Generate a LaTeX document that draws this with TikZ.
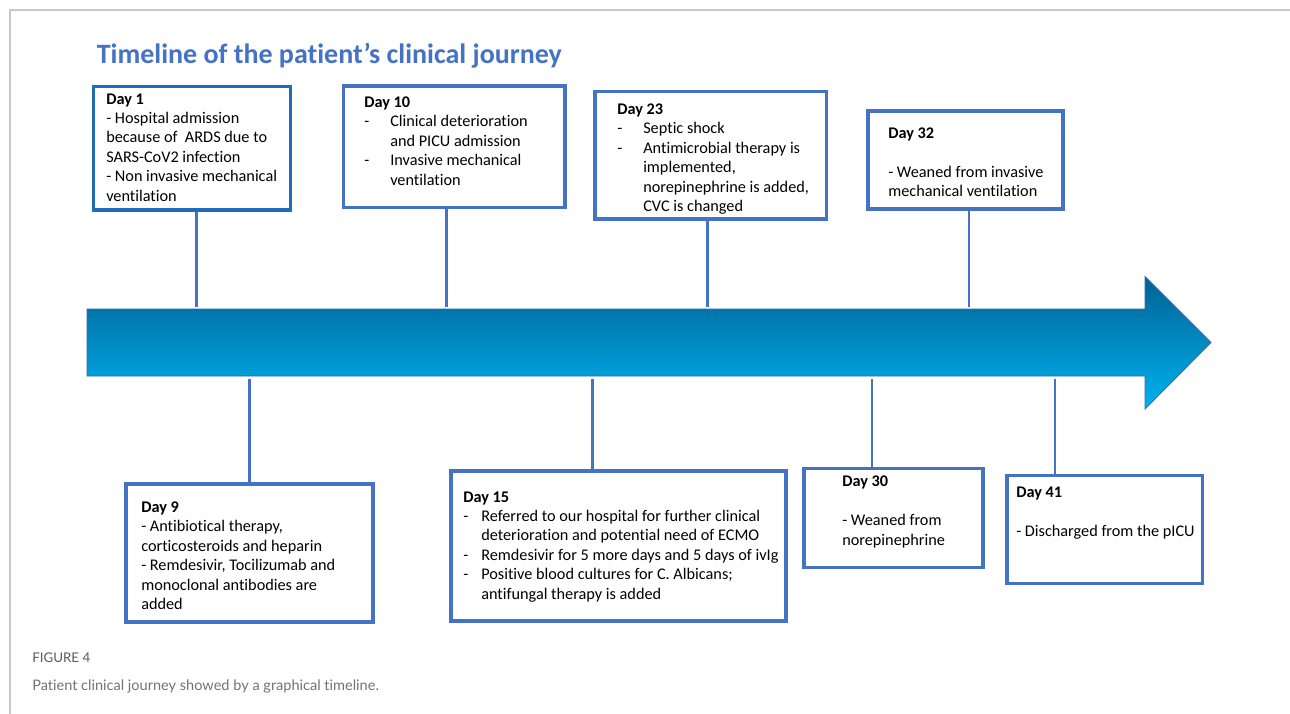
\documentclass[tikz,border=0pt]{standalone}
\usepackage{fontspec}
\setmainfont{Carlito}[Ligatures=NoCommon]
\newfontfamily\capfont{Lato}[Ligatures=NoCommon]
\usetikzlibrary{fit}
\definecolor{bx}{RGB}{68,114,196}
\definecolor{bxd}{RGB}{30,108,186}
\definecolor{frm}{RGB}{200,200,200}
\definecolor{capg}{RGB}{90,90,90}
\definecolor{capt}{RGB}{115,115,115}
\definecolor{arrtop}{RGB}{0,98,148}
\definecolor{arrbot}{RGB}{0,178,240}
\definecolor{arrline}{RGB}{50,110,170}
\newcommand\dsh[1]{\makebox[#1][l]{-}}
\tikzset{
  box/.style={draw=bx, line width=2.3pt, inner sep=0pt},
  conn/.style={draw=bx, line width=2.2pt},
  txt/.style={anchor=base west, inner sep=0pt, font=\fontsize{12.2}{14.6}\selectfont},
}
\begin{document}
\begin{tikzpicture}[x=0.75pt,y=-0.75pt]
\useasboundingbox (0,0) rectangle (1290,714);
\fill[white] (0,0) rectangle (1290,714);
% frame
\draw[frm, line width=1.2pt] (1290,10) -- (10,10) -- (10,714);
% title
\node[anchor=base west, inner sep=0pt, text=bx, font=\fontsize{21}{25}\selectfont\bfseries] (title) at (96.5,63.3) {Timeline of the patient’s clinical journey};
% arrow
\path[top color=arrtop, bottom color=arrbot, draw=arrline, line width=0.6pt]
  (87,309) -- (1145,309) -- (1145,276.5) -- (1211,342.5) -- (1145,409) -- (1145,376) -- (87,376) -- cycle;
\coordinate (atop) at (0,307);
\coordinate (abot) at (0,379);
% top boxes
\node[box, draw=bxd, line width=2.7pt, fit={(93.5,86.5) (290.5,210)}] (d1) {};
\node[box, fit={(343.5,86) (565,207.5)}] (d10) {};
\node[box, fit={(595,91.5) (826.5,219)}] (d23) {};
\node[box, fit={(868,111) (1063,209)}] (d32) {};
% bottom boxes
\node[box, fit={(126,484) (373,622)}] (d9) {};
\node[box, line width=2.9pt, fit={(451,471) (786,621)}] (d15) {};
\node[box, fit={(804,468.5) (983,567.5)}] (d30) {};
\node[box, fit={(1007,475.5) (1202.5,583.5)}] (d41) {};
% connector x positions
\coordinate (x1) at (196.7,0);
\coordinate (x10) at (446.5,0);
\coordinate (x23) at (707.7,0);
\coordinate (x32) at (969,0);
\coordinate (x9) at (249.5,0);
\coordinate (x15) at (592.8,0);
\coordinate (x30) at (872,0);
\coordinate (x41) at (1055,0);
\draw[conn] (x1 |- d1.south) -- (x1 |- atop);
\draw[conn] (x10 |- d10.south) -- (x10 |- atop);
\draw[conn] (x23 |- d23.south) -- (x23 |- atop);
\draw[conn] (x32 |- d32.south) -- (x32 |- atop);
\draw[conn] (x9 |- abot) -- (x9 |- d9.north);
\draw[conn] (x15 |- abot) -- (x15 |- d15.north);
\draw[conn] (x30 |- abot) -- (x30 |- d30.north);
\draw[conn] (x41 |- abot) -- (x41 |- d41.north);
% texts
\node[txt] (t1) at (106,104) {\begin{tabular}[t]{@{}l@{}}\textbf{Day 1}\\- Hospital admission\\because of\ \ ARDS due to\\SARS-CoV2 infection\\- Non invasive mechanical\\ventilation\end{tabular}};
\node[txt] (t10) at (364,107.3) {\begin{tabular}[t]{@{}l@{}}\textbf{Day 10}\\\dsh{19.5pt}Clinical deterioration\\\hspace*{19.5pt}and PICU admission\\\dsh{19.5pt}Invasive mechanical\\\hspace*{19.5pt}ventilation\end{tabular}};
\node[txt] (t23) at (617,114.3) {\begin{tabular}[t]{@{}l@{}}\textbf{Day 23}\\\dsh{19.5pt}Septic shock\\\dsh{19.5pt}Antimicrobial therapy is\\\hspace*{19.5pt}implemented,\\\hspace*{19.5pt}norepinephrine is added,\\\hspace*{19.5pt}CVC is changed\end{tabular}};
\node[txt] (t32) at (888,138.3) {\begin{tabular}[t]{@{}l@{}}\textbf{Day 32}\\ \\- Weaned from invasive\\mechanical ventilation\end{tabular}};
\node[txt] (t9) at (141,512.5) {\begin{tabular}[t]{@{}l@{}}\textbf{Day 9}\\- Antibiotical therapy,\\corticosteroids and heparin\\- Remdesivir, Tocilizumab and\\monoclonal antibodies are\\added\end{tabular}};
\node[txt] (t15) at (463,502) {\begin{tabular}[t]{@{}l@{}}\textbf{Day 15}\\\dsh{13.5pt}Referred to our hospital for further clinical\\\hspace*{13.5pt}deterioration and potential need of ECMO\\\dsh{13.5pt}Remdesivir for 5 more days and 5 days of ivIg\\\dsh{13.5pt}Positive blood cultures for C. Albicans;\\\hspace*{13.5pt}antifungal therapy is added\end{tabular}};
\node[txt] (t30) at (842,486.7) {\begin{tabular}[t]{@{}l@{}}\textbf{Day 30}\\ \\- Weaned from\\norepinephrine\end{tabular}};
\node[txt] (t41) at (1016,497.7) {\begin{tabular}[t]{@{}l@{}}\textbf{Day 41}\\ \\- Discharged from the pICU\end{tabular}};
% caption
\node[anchor=base west, inner sep=0pt, text=capg, font=\capfont\fontsize{10}{12}\selectfont] (fig) at (32,662) {FIGURE 4};
\node[anchor=base west, inner sep=0pt, text=capt, font=\capfont\fontsize{10.9}{13}\selectfont] (cap) at (32,690) {Patient clinical journey showed by a graphical timeline.};
\end{tikzpicture}
\end{document}
